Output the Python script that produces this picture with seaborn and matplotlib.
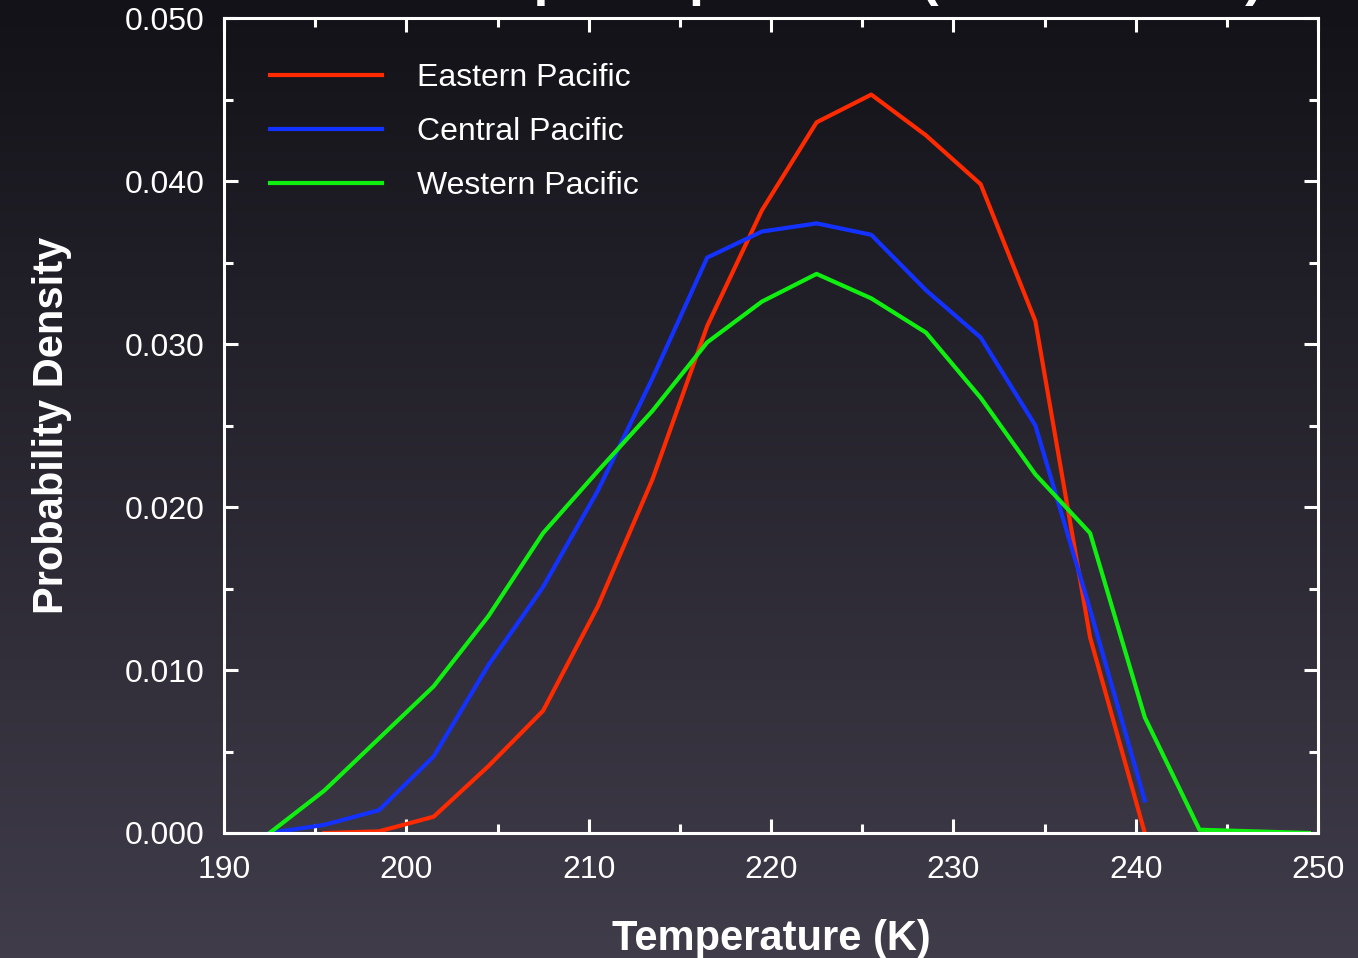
import numpy as np
import pandas as pd
import matplotlib
matplotlib.use("Agg")
import matplotlib.pyplot as plt
import seaborn as sns

# ---- data ----
temp_east = [195.5, 198.5, 201.5, 204.5, 207.5, 210.5, 213.5, 216.5, 219.5, 222.5,
             225.5, 228.5, 231.5, 234.5, 237.5, 240.5]
dens_east = [0.0000, 0.0001, 0.0010, 0.0041, 0.0075, 0.0139, 0.0217, 0.0311, 0.0382, 0.0436,
             0.0453, 0.0428, 0.0398, 0.0314, 0.0120, 0.0000]

temp_central = [192.5, 195.5, 198.5, 201.5, 204.5, 207.5, 210.5, 213.5, 216.5, 219.5,
                222.5, 225.5, 228.5, 231.5, 234.5, 237.5, 240.5]
dens_central = [0.0000, 0.0005, 0.0014, 0.0047, 0.0103, 0.0151, 0.0210, 0.0279, 0.0353, 0.0369,
                0.0374, 0.0367, 0.0333, 0.0304, 0.0250, 0.0137, 0.0020]

temp_west = [192.5, 195.5, 198.5, 201.5, 204.5, 207.5, 210.5, 213.5, 216.5, 219.5,
             222.5, 225.5, 228.5, 231.5, 234.5, 237.5, 240.5, 243.5, 246.5, 249.5]
dens_west = [0.0000, 0.0026, 0.0058, 0.0090, 0.0133, 0.0184, 0.0222, 0.0259, 0.0301, 0.0326,
             0.0343, 0.0328, 0.0307, 0.0267, 0.0220, 0.0184, 0.0071, 0.0002, 0.0001, 0.0000]

regions = ["Eastern Pacific", "Central Pacific", "Western Pacific"]
colors = ["#ff2a00", "#1432ff", "#10f010"]

x_ticks = [190, 200, 210, 220, 230, 240, 250]
y_ticks = [0.000, 0.010, 0.020, 0.030, 0.040, 0.050]

title_text = "Cloud Top Temperature (Anvil Cirrus)"
x_label = "Temperature (K)"
y_label = "Probability Density"

df = pd.concat([
    pd.DataFrame({"T": temp_east, "D": dens_east, "Region": regions[0]}),
    pd.DataFrame({"T": temp_central, "D": dens_central, "Region": regions[1]}),
    pd.DataFrame({"T": temp_west, "D": dens_west, "Region": regions[2]}),
], ignore_index=True)

plt.rcParams["font.family"] = ["Liberation Sans", "DejaVu Sans"]

W, H = 1358, 958
fig = plt.figure(figsize=(W / 100, H / 100), dpi=100)

# background gradient
bg = fig.add_axes([0, 0, 1, 1], zorder=-10)
top = np.array([19, 18, 24]) / 255.0
bot = np.array([64, 60, 74]) / 255.0
t = np.linspace(0, 1, 256)[:, None]
grad = top[None, :] * (1 - t) + bot[None, :] * t
grad = np.repeat(grad[:, None, :], 4, axis=1)
bg.imshow(grad, aspect="auto", extent=[0, 1, 0, 1], origin="upper")
bg.set_axis_off()

ax = fig.add_axes([224 / W, 1 - 833 / H, (1318 - 224) / W, (833 - 18) / H])
ax.set_facecolor("none")

sns.lineplot(data=df, x="T", y="D", hue="Region", hue_order=regions,
             palette=colors, linewidth=3.0, ax=ax, sort=False, estimator=None)

ax.set_xlim(190, 250)
ax.set_ylim(0, 0.05)
ax.set_xticks(x_ticks)
ax.set_yticks(y_ticks)
ax.set_yticklabels([f"{v:.3f}" for v in y_ticks])
ax.set_xticks(np.arange(195, 250, 10), minor=True)
ax.set_yticks(np.arange(0.005, 0.05, 0.01), minor=True)

for s in ax.spines.values():
    s.set_color("white")
    s.set_linewidth(2.2)

ax.tick_params(which="both", direction="in", colors="white", top=True, right=True,
               width=2.2, labelsize=23, pad=14)
ax.tick_params(axis="x", which="major", pad=16)
ax.tick_params(which="major", length=10)
ax.tick_params(which="minor", length=6.5)

ax.set_xlabel(x_label, fontsize=30, fontweight="bold", color="white", labelpad=24)
ax.set_ylabel(y_label, fontsize=30, fontweight="bold", color="white", labelpad=38)

leg = ax.legend(loc="upper left", bbox_to_anchor=(0.042, 0.945), frameon=False,
                fontsize=23, handlelength=3.5, handletextpad=1.1, labelspacing=0.75,
                borderaxespad=0, borderpad=0)
for txt in leg.get_texts():
    txt.set_color("white")
for line in leg.get_lines():
    line.set_linewidth(3.0)

fig.text(783 / W, 1 + 5 / H, title_text, ha="center", va="baseline",
         fontsize=39, fontweight="bold", color="white")

fig.savefig("out.png", dpi=100)
